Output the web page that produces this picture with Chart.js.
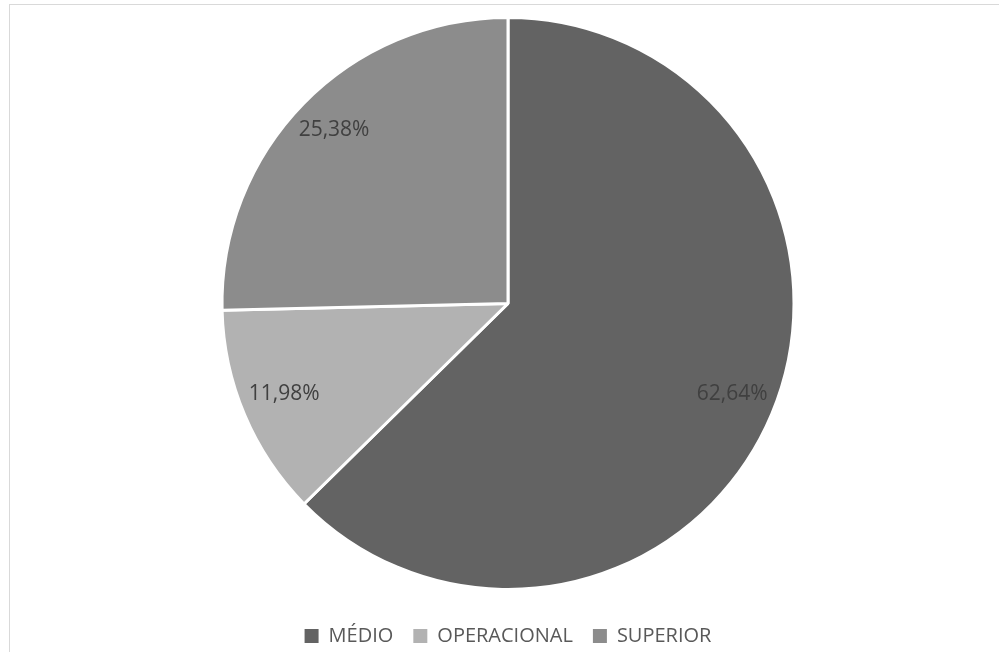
<!DOCTYPE html>
<html>
<head>
<meta charset="utf-8">
<script src="https://cdn.jsdelivr.net/npm/chart.js@4/dist/chart.umd.min.js"></script>
<style>
  html, body { margin: 0; padding: 0; background: #fff; overflow: hidden; width: 999px; height: 652px; }
  #frame { position: absolute; left: 9px; top: 4px; width: 1200px; height: 900px; border: 1px solid #d9d9d9; box-sizing: border-box; }
  #c { position: absolute; left: 0; top: 0; }
</style>
</head>
<body>
<div id="frame"></div>
<canvas id="c" width="999" height="656"></canvas>
<script>
const categories = ["MÉDIO", "OPERACIONAL", "SUPERIOR"];
const values = [62.64, 11.98, 25.38];
const valueLabels = ["62,64%", "11,98%", "25,38%"];
const colors = ["#636363", "#b2b2b2", "#8c8c8c"];

const sliceLabels = {
  id: "sliceLabels",
  afterDatasetsDraw(chart) {
    const ctx = chart.ctx;
    const meta = chart.getDatasetMeta(0);
    ctx.save();
    ctx.font = "21px 'Open Sans'";
    ctx.fillStyle = "#404040";
    ctx.textAlign = "center";
    ctx.textBaseline = "middle";
    meta.data.forEach((arc, i) => {
      const p = arc.getProps(["x", "y", "startAngle", "endAngle", "outerRadius"], true);
      const mid = (p.startAngle + p.endAngle) / 2;
      const r = p.outerRadius * 0.85;
      ctx.fillText(valueLabels[i], p.x + Math.cos(mid) * r, p.y + Math.sin(mid) * r - 4);
    });
    ctx.restore();
  }
};

new Chart(document.getElementById("c"), {
  type: "pie",
  data: {
    labels: categories,
    datasets: [{
      data: values,
      backgroundColor: colors,
      borderColor: "#ffffff",
      borderWidth: 3,
      radius: 286
    }]
  },
  options: {
    responsive: false,
    animation: false,
    layout: { padding: { left: 17, top: 1, right: 0, bottom: 0 } },
    plugins: {
      tooltip: { enabled: false },
      legend: {
        position: "bottom",
        labels: {
          font: { family: "'Open Sans'", size: 20 },
          color: "#595959",
          boxWidth: 14,
          boxHeight: 14,
          padding: 20,
          generateLabels(chart) {
            const items = Chart.overrides.pie.plugins.legend.labels.generateLabels(chart);
            items.forEach(it => { it.lineWidth = 0; it.strokeStyle = it.fillStyle; });
            return items;
          }
        }
      }
    }
  },
  plugins: [sliceLabels]
});
</script>
</body>
</html>
